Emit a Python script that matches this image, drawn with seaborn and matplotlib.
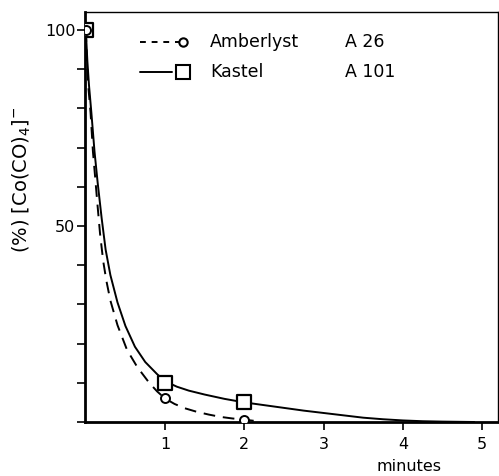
import numpy as np
import pandas as pd
import seaborn as sns
import matplotlib.pyplot as plt

# values
kastel_curve_x = [0, 0.01, 0.02, 0.04, 0.07, 0.11, 0.15, 0.20, 0.25, 0.31, 0.40, 0.50,
                  0.62, 0.75, 0.90, 1.0, 1.15, 1.3, 1.5, 1.75, 2.0, 2.25, 2.5, 2.75,
                  3.0, 3.25, 3.5, 3.75, 4.0, 4.25, 4.5, 4.9]
kastel_curve_y = [100, 96, 92, 86, 79, 69, 61, 52, 44, 37.5, 30.5, 24.5,
                  19.2, 15.3, 12.2, 10.4, 9.0, 8.0, 7.0, 5.9, 5.0, 4.3, 3.6, 2.9,
                  2.3, 1.7, 1.1, 0.7, 0.4, 0.2, 0.1, 0]
amber_curve_x = [0, 0.008, 0.015, 0.03, 0.06, 0.09, 0.12, 0.145, 0.18, 0.22, 0.26,
                 0.31, 0.40, 0.52, 0.65, 0.80, 0.90, 1.0, 1.12, 1.25, 1.4, 1.55,
                 1.7, 1.85, 2.0, 2.1, 2.2]
amber_curve_y = [100, 96, 92, 86, 79, 69, 62, 56, 48, 41, 36,
                 31, 24.7, 18.4, 14.0, 10.0, 7.8, 6.0, 4.6, 3.5, 2.6, 1.9,
                 1.3, 0.9, 0.6, 0.35, 0.15]

kastel_pts_x = [0, 1, 2]
kastel_pts_y = [100, 10, 5]
amber_pts_x = [0, 1, 2]
amber_pts_y = [100, 6, 0.6]

legend_names = ['Amberlyst', 'Kastel']
legend_codes = ['A 26', 'A 101']
x_ticks = [1, 2, 3, 4, 5]
y_ticks = [0, 10, 20, 30, 40, 50, 60, 70, 80, 90, 100]
y_tick_labels = ['', '', '', '', '', '50', '', '', '', '', '100']

sns.set_style('ticks')
plt.rcParams['font.family'] = ['DejaVu Sans']
plt.rcParams['text.color'] = 'black'
plt.rcParams['axes.labelcolor'] = 'black'

fig = plt.figure(figsize=(4.99, 4.76), dpi=100)
ax = fig.add_axes([85 / 499, 54 / 476, 413 / 499, 410 / 476])

kastel_df = pd.DataFrame({'t': kastel_curve_x, 'c': kastel_curve_y})
amber_df = pd.DataFrame({'t': amber_curve_x, 'c': amber_curve_y})

sns.lineplot(data=kastel_df, x='t', y='c', ax=ax, color='black', lw=1.4,
             estimator=None, sort=False)
sns.lineplot(data=amber_df, x='t', y='c', ax=ax, color='black', lw=1.4,
             estimator=None, sort=False)
ax.lines[-1].set_dashes([6, 4])

sns.scatterplot(x=kastel_pts_x, y=kastel_pts_y, ax=ax, marker='s', s=95,
                facecolor='white', edgecolor='black', linewidth=1.6, zorder=5)
sns.scatterplot(x=amber_pts_x, y=amber_pts_y, ax=ax, marker='o', s=42,
                facecolor='white', edgecolor='black', linewidth=1.4, zorder=6)

ax.set_xlim(-0.01, 5.2)
ax.set_ylim(0, 104.6)
ax.set_xticks(x_ticks)
ax.set_xticklabels([str(v) for v in x_ticks], fontsize=11.5)
ax.set_yticks(y_ticks)
ax.set_yticklabels(y_tick_labels, fontsize=11.5)
ax.tick_params(direction='out', length=6, width=1.2, colors='black')
ax.tick_params(axis='x', pad=5)
ax.tick_params(axis='y', pad=1)
for s in ax.spines.values():
    s.set_linewidth(1.0)
    s.set_color('black')
ax.spines['left'].set_linewidth(2)
ax.spines['bottom'].set_linewidth(2)

ax.set_xlabel('minutes', fontsize=11.5)
ax.xaxis.set_label_coords(0.785, -0.09)
ax.set_ylabel(r'(%) $\left[\mathrm{Co(CO)_4}\right]^{-}$', fontsize=14)
ax.yaxis.set_label_coords(-0.125, 0.59)

# legend drawn by hand: line sample with marker at its right end
rows = [0.927, 0.854]
styles = [('--', 'o', 6, 0.228), ('-', 's', 10, 0.210)]
for yy, (ls, mk, ms, xend), name, code in zip(rows, styles, legend_names, legend_codes):
    ax.plot([0.133, xend], [yy, yy], transform=ax.transAxes, color='black',
            ls=ls, lw=1.4, dashes=(3, 3) if ls == '--' else (None, None))
    ax.plot([0.237], [yy], transform=ax.transAxes, marker=mk, ms=ms,
            mfc='white', mec='black', mew=1.5, ls='none')
    ax.text(0.303, yy, name, transform=ax.transAxes, fontsize=12.5,
            va='center', ha='left')
    ax.text(0.630, yy, code, transform=ax.transAxes, fontsize=12.5,
            va='center', ha='left')

fig.savefig('out.png', dpi=100)
